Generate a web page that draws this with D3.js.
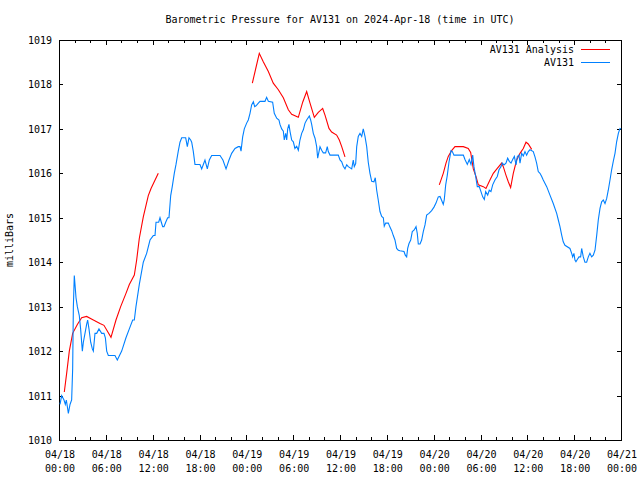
<!DOCTYPE html>
<html><head><meta charset="utf-8">
<script src="https://cdn.jsdelivr.net/npm/d3@7"></script>
<style>
body{margin:0;background:#fff;}
svg text{font-family:"DejaVu Sans Mono",monospace;font-size:10px;fill:#000;}
</style></head>
<body><svg id="c" width="640" height="480"></svg>
<script>
const title = "Barometric Pressure for AV131 on 2024-Apr-18 (time in UTC)";
const yLabel = "milliBars";
const seriesNames = ["AV131 Analysis", "AV131"];
const startTime = "2024-04-18T00:00:00Z";
const endTime = "2024-04-21T00:00:00Z";
const yTicks = [1010,1011,1012,1013,1014,1015,1016,1017,1018,1019];

// AV131 observations: hours since start, pressure (mb)
const obsHours = [0.13,0.34,0.64,0.81,0.94,1.2,1.41,1.62,1.75,1.84,1.96,2.05,2.18,2.35,2.6,2.77,2.99,3.12,3.33,3.54,3.67,3.84,4.06,4.27,4.4,4.61,4.83,5.12,5.47,5.76,5.94,6.11,6.32,7.17,7.47,8.03,8.58,9.01,9.44,9.65,9.86,10.29,10.8,11.23,11.66,12.08,12.3,12.43,12.77,12.94,13.11,13.28,13.45,13.67,13.92,14.09,14.31,14.51,14.77,14.99,15.28,15.5,15.72,16.23,16.44,16.65,16.87,17.0,17.2,17.42,18.06,18.28,18.49,18.7,19.0,19.26,19.56,20.63,21.0,21.4,21.78,22.12,22.55,22.97,23.19,23.32,23.53,23.74,24.04,24.25,24.47,24.68,24.9,25.07,25.24,25.54,25.75,26.39,26.6,26.82,27.37,27.58,27.89,28.18,28.31,28.53,28.74,28.86,29.04,29.17,29.3,29.46,29.59,29.81,30.02,30.23,30.45,30.66,30.87,31.09,31.3,31.52,31.73,32.07,32.24,32.37,32.58,32.8,33.01,33.14,33.31,33.44,33.65,33.86,34.16,34.37,34.5,34.72,35.78,36.0,36.22,36.42,36.64,36.86,37.06,37.5,37.7,37.83,38.01,38.14,38.34,38.56,38.78,38.98,39.2,39.42,39.62,39.84,40.06,40.35,40.52,40.7,40.9,41.12,41.34,41.55,41.67,41.85,42.19,42.4,42.62,42.83,43.04,43.26,43.47,43.68,44.2,44.36,44.54,44.67,44.84,45.06,45.26,45.48,45.61,45.74,45.9,46.03,46.25,46.46,46.67,46.89,47.1,47.4,47.74,48.04,48.3,48.59,48.81,49.03,49.23,49.36,49.54,49.74,49.96,50.22,50.39,50.6,51.8,52.01,52.31,52.56,52.78,53.0,53.16,53.38,53.59,53.84,54.06,54.28,54.49,54.66,54.92,55.12,55.34,55.56,55.85,56.15,56.37,56.62,56.79,57.01,57.26,57.48,57.69,57.91,58.12,58.34,58.55,58.72,58.93,59.06,59.27,59.48,59.7,59.91,60.12,60.34,60.76,60.98,61.19,61.4,61.62,61.84,62.04,62.48,62.9,63.32,63.76,63.97,64.18,64.4,64.6,64.82,65.46,65.68,65.81,65.97,66.1,66.23,66.4,66.62,66.83,66.96,67.17,67.38,67.6,67.81,68.02,68.24,68.45,68.67,68.89,69.09,69.31,69.52,69.73,69.95,70.16,70.37,70.59,70.8,71.01,71.23,71.44,71.66,71.87,72.0];
const obsPressure = [1010.8,1011.0,1010.9,1010.8,1010.9,1010.6,1010.8,1010.9,1011.6,1013.0,1013.7,1013.5,1013.2,1013.0,1012.8,1012.5,1012.0,1012.2,1012.4,1012.6,1012.7,1012.5,1012.2,1012.05,1012.0,1012.4,1012.4,1012.5,1012.4,1012.4,1012.3,1012.0,1011.9,1011.9,1011.8,1012.0,1012.3,1012.5,1012.7,1012.7,1013.0,1013.5,1014.0,1014.2,1014.5,1014.6,1014.6,1014.9,1014.9,1015.0,1014.9,1014.8,1014.8,1014.9,1015.0,1015.0,1015.5,1015.7,1016.0,1016.2,1016.5,1016.7,1016.8,1016.8,1016.6,1016.8,1016.75,1016.7,1016.5,1016.2,1016.2,1016.1,1016.2,1016.3,1016.1,1016.3,1016.4,1016.4,1016.3,1016.1,1016.3,1016.45,1016.56,1016.6,1016.6,1016.5,1016.82,1017.0,1017.13,1017.2,1017.35,1017.54,1017.61,1017.5,1017.52,1017.58,1017.62,1017.62,1017.71,1017.62,1017.6,1017.35,1017.24,1017.2,1017.1,1017.0,1016.95,1016.75,1016.9,1016.75,1017.0,1017.1,1016.95,1016.75,1016.71,1016.56,1016.61,1016.52,1016.75,1016.9,1016.98,1017.13,1017.2,1017.29,1017.2,1017.1,1016.9,1016.79,1016.6,1016.34,1016.49,1016.6,1016.52,1016.46,1016.46,1016.6,1016.49,1016.41,1016.41,1016.3,1016.26,1016.16,1016.1,1016.19,1016.15,1016.1,1016.3,1016.15,1016.22,1016.6,1016.83,1016.9,1016.83,1017.0,1016.83,1016.6,1016.25,1016.0,1015.82,1015.81,1015.9,1015.62,1015.4,1015.14,1015.03,1015.0,1014.81,1014.88,1014.88,1014.79,1014.71,1014.6,1014.5,1014.31,1014.27,1014.26,1014.24,1014.16,1014.12,1014.31,1014.42,1014.5,1014.69,1014.72,1014.76,1014.8,1014.65,1014.41,1014.41,1014.5,1014.69,1014.84,1015.06,1015.1,1015.16,1015.24,1015.33,1015.47,1015.48,1015.39,1015.3,1015.41,1015.74,1015.95,1016.25,1016.51,1016.49,1016.41,1016.41,1016.31,1016.2,1016.31,1016.2,1016.41,1016.15,1015.93,1015.7,1015.7,1015.59,1015.47,1015.41,1015.59,1015.51,1015.62,1015.59,1015.74,1015.85,1015.93,1016.08,1016.15,1016.23,1016.19,1016.23,1016.34,1016.27,1016.23,1016.31,1016.38,1016.19,1016.38,1016.41,1016.23,1016.45,1016.39,1016.49,1016.41,1016.49,1016.53,1016.49,1016.37,1016.23,1016.04,1016.0,1015.93,1015.85,1015.7,1015.51,1015.32,1015.1,1014.95,1014.8,1014.61,1014.46,1014.38,1014.31,1014.2,1014.12,1014.2,1014.05,1014.01,1014.06,1014.12,1014.12,1014.31,1014.12,1014.0,1014.0,1014.12,1014.2,1014.12,1014.16,1014.27,1014.61,1014.95,1015.21,1015.36,1015.4,1015.32,1015.43,1015.62,1015.85,1016.08,1016.27,1016.45,1016.71,1016.9,1017.01,1017.0];

// AV131 Analysis: hours since start, pressure (mb); null = gap
const anaHours = [0.68,0.98,1.32,1.75,2.35,2.9,3.54,4.4,5.25,5.76,6.66,7.3,7.9,8.58,9.01,9.65,9.95,10.29,10.8,11.44,11.79,12.72,18.0,24.77,25.66,26.17,26.82,27.45,28.1,28.74,29.38,29.81,30.66,31.22,31.73,32.16,32.71,33.22,33.78,34.08,34.59,34.93,35.57,35.91,36.22,36.64,42.0,48.72,49.23,49.58,49.87,50.3,50.73,51.8,52.43,52.74,53.08,53.42,53.72,54.36,54.7,55.21,55.64,56.15,56.71,56.92,57.26,57.56,57.86,58.2,58.63,59.06,59.48,59.83,60.12,60.56];
const anaPressure = [1011.08,1011.5,1012.0,1012.4,1012.6,1012.75,1012.78,1012.7,1012.62,1012.58,1012.31,1012.7,1013.0,1013.3,1013.5,1013.71,1014.05,1014.54,1015.02,1015.5,1015.66,1016.0,null,1018.03,1018.7,1018.51,1018.29,1018.03,1017.88,1017.7,1017.43,1017.33,1017.26,1017.6,1017.84,1017.58,1017.26,1017.37,1017.46,1017.31,1017.01,1016.93,1016.86,1016.75,1016.6,1016.37,null,1015.74,1016.0,1016.23,1016.38,1016.51,1016.6,1016.6,1016.56,1016.47,1016.1,1015.93,1015.74,1015.7,1015.66,1015.85,1016.0,1016.11,1016.23,1016.15,1015.96,1015.81,1015.68,1016.0,1016.3,1016.45,1016.56,1016.7,1016.66,1016.54];

const colors = ["#ff0000", "#0080ff"];

const svg = d3.select("#c");
const L = 59, R = 621, T = 40, B = 440;
const t0 = new Date(startTime), t1 = new Date(endTime);
const toDate = h => new Date(t0.getTime() + h * 3600000);

const x = d3.scaleUtc().domain([t0, t1]).range([L, R]);
const y = d3.scaleLinear().domain([1010, 1019]).range([B, T]);

const fmtD = d3.utcFormat("%m/%d"), fmtT = d3.utcFormat("%H:%M");
const majorTicks = x.ticks(d3.utcHour.every(6));
const minorTicks = x.ticks(d3.utcHour.every(2));

const g = svg.append("g");
// ticks (inward on all sides)
const tk = g.append("g").attr("stroke", "#000").attr("stroke-width", 1).attr("shape-rendering", "crispEdges");
minorTicks.forEach(d => {
  const major = d.getUTCHours() % 6 === 0;
  const len = major ? 5 : 3;
  const xx = Math.round(x(d)) + 0.5;
  tk.append("line").attr("x1", xx).attr("x2", xx).attr("y1", B).attr("y2", B - len);
  tk.append("line").attr("x1", xx).attr("x2", xx).attr("y1", T).attr("y2", T + len);
});
yTicks.forEach(v => {
  const yy = Math.round(y(v)) + 0.5;
  tk.append("line").attr("x1", L).attr("x2", L + 4).attr("y1", yy).attr("y2", yy);
  tk.append("line").attr("x1", R).attr("x2", R - 4).attr("y1", yy).attr("y2", yy);
});
// frame
g.append("rect").attr("x", L + 0.5).attr("y", T + 0.5).attr("width", R - L).attr("height", B - T)
  .attr("fill", "none").attr("stroke", "#000").attr("shape-rendering", "crispEdges");

// tick labels
yTicks.forEach(v => {
  g.append("text").attr("x", 52).attr("y", y(v) + 4).attr("text-anchor", "end").text(v);
});
majorTicks.forEach(d => {
  g.append("text").attr("x", x(d) + 1).attr("y", 458).attr("text-anchor", "middle").text(fmtD(d));
  g.append("text").attr("x", x(d) + 1).attr("y", 472).attr("text-anchor", "middle").text(fmtT(d));
});

// title and axis label
svg.append("text").attr("x", 340).attr("y", 23).attr("text-anchor", "middle").text(title);
svg.append("text").attr("transform", "translate(13,240) rotate(-90)").attr("text-anchor", "middle").text(yLabel);

// lines
const obs = obsHours.map((h, i) => ({t: toDate(h), v: obsPressure[i]}));
const ana = anaHours.map((h, i) => ({t: toDate(h), v: anaPressure[i]}));
const line = d3.line().defined(d => d.v !== null).x(d => x(d.t)).y(d => y(d.v));
svg.append("path").datum(ana).attr("d", line).attr("fill", "none").attr("stroke", colors[0]).attr("stroke-width", 1.1);
svg.append("path").datum(obs).attr("d", line).attr("fill", "none").attr("stroke", colors[1]).attr("stroke-width", 1.1);

// legend
seriesNames.forEach((n, i) => {
  const ly = 49 + i * 13;
  svg.append("text").attr("x", 574).attr("y", ly + 4).attr("text-anchor", "end").text(n);
  svg.append("line").attr("x1", 581).attr("x2", 610).attr("y1", ly + 0.5).attr("y2", ly + 0.5)
    .attr("stroke", colors[i]).attr("stroke-width", 1).attr("shape-rendering", "crispEdges");
});
</script></body></html>
